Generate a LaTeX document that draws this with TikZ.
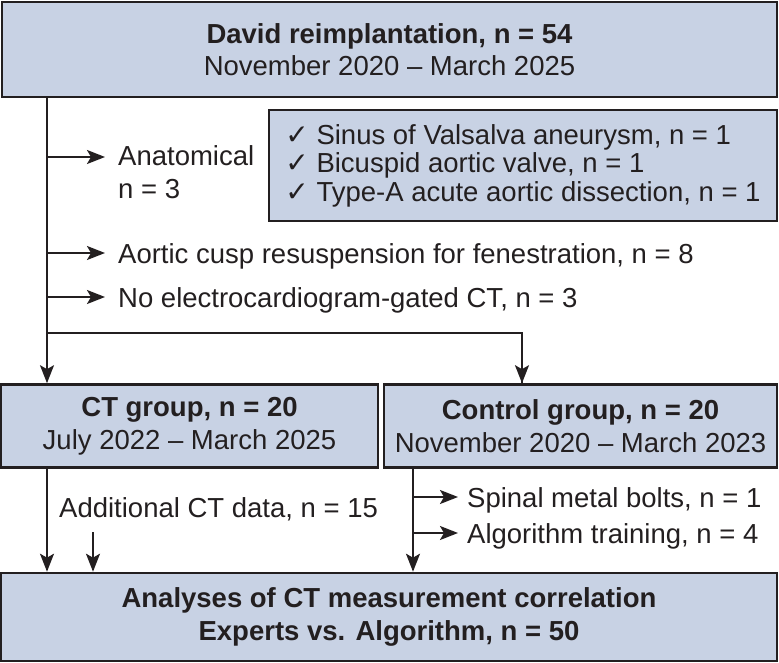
\documentclass[tikz,border=0pt]{standalone}
\usepackage{fontspec}
\setmainfont{Liberation Sans}
\newfontfamily\tickfont{DejaVu Sans}
\usetikzlibrary{arrows.meta,positioning}
\definecolor{BoxBlue}{RGB}{200,210,228}
\definecolor{LineDark}{RGB}{35,31,32}
\newcommand{\tick}{{\tickfont\bfseries\fontsize{28}{29}\selectfont ✓}\ }

\tikzset{
  flowbox/.style={draw=LineDark,line width=2.6pt,fill=BoxBlue,align=center,inner sep=0pt,
    text=LineDark,font=\fontsize{27.5}{32.5}\selectfont},
  sidenote/.style={anchor=base west,align=left,inner sep=0pt,text=LineDark,
    font=\fontsize{27.5}{33}\selectfont},
  flowarrow/.style={draw=LineDark,line width=2pt,-{Stealth[length=18pt,width=14pt,inset=4pt]}},
  flowline/.style={draw=LineDark,line width=2pt}
}

\begin{document}
\begin{tikzpicture}[x=1pt,y=-1pt]
  \useasboundingbox (0,0) rectangle (779,663);

  % boxes
  \node[flowbox,minimum width=775pt,minimum height=95pt] (david) at (389.5,49.5)
    {\textbf{David reimplantation, n = 54}\\November 2020 – March 2025};
  \node[flowbox,minimum width=508pt,minimum height=111pt,align=left,
    font=\fontsize{27.5}{28.5}\selectfont] (anat) at (523,165.5)
    {\tick Sinus of Valsalva aneurysm, n = 1\\\tick Bicuspid aortic valve, n = 1\\\tick Type-A acute aortic dissection, n = 1};
  \node[flowbox,minimum width=377pt,minimum height=83pt] (ctgroup) at (189.5,426)
    {\textbf{CT group, n = 20}\\July 2022 – March 2025};
  \node[flowbox,minimum width=393pt,minimum height=83pt] (control) at (580.5,426)
    {\textbf{Control group, n = 20}\\November 2020 – March 2023};
  \node[flowbox,minimum width=776pt,minimum height=88pt] (analysis) at (389,617)
    {\textbf{Analyses of CT measurement correlation}\\\textbf{Experts vs. Algorithm, n = 50}};

  % exclusions
  \coordinate (split) at (47,333);
  \coordinate (exA) at (105,157);
  \coordinate (exB) at (105,253);
  \coordinate (exC) at (105,297);
  \node[sidenote] (anattext) at (118,199) {Anatomical\\n = 3};
  \node[sidenote] (cusp) at (118,263) {Aortic cusp resuspension for fenestration, n = 8};
  \node[sidenote] (noecg) at (118,307) {No electrocardiogram-gated CT, n = 3};

  \draw[flowline] (david.south -| split) -- (split) -| (control.north -| 522,0);
  \draw[flowarrow] (split) -- (ctgroup.north -| split);
  \draw[flowarrow] (split -| 522,0) -- (control.north -| 522,0);
  \foreach \ex in {exA,exB,exC}
    \draw[flowarrow] (\ex -| split) -- (\ex);

  % lower part
  \coordinate (addtop) at (93,532);
  \coordinate (ctrlx) at (413,0);
  \coordinate (exD) at (458,497);
  \coordinate (exE) at (458,533);
  \node[sidenote] (addct) at (59,517) {Additional CT data, n = 15};
  \node[sidenote] (bolts) at (467,507) {Spinal metal bolts, n = 1};
  \node[sidenote] (train) at (467,543) {Algorithm training, n = 4};

  \draw[flowarrow] (ctgroup.south -| split) -- (analysis.north -| split);
  \draw[flowarrow] (addtop) -- (analysis.north -| addtop);
  \draw[flowarrow] (control.south -| ctrlx) -- (analysis.north -| ctrlx);
  \foreach \ex in {exD,exE}
    \draw[flowarrow] (\ex -| ctrlx) -- (\ex);
\end{tikzpicture}
\end{document}
